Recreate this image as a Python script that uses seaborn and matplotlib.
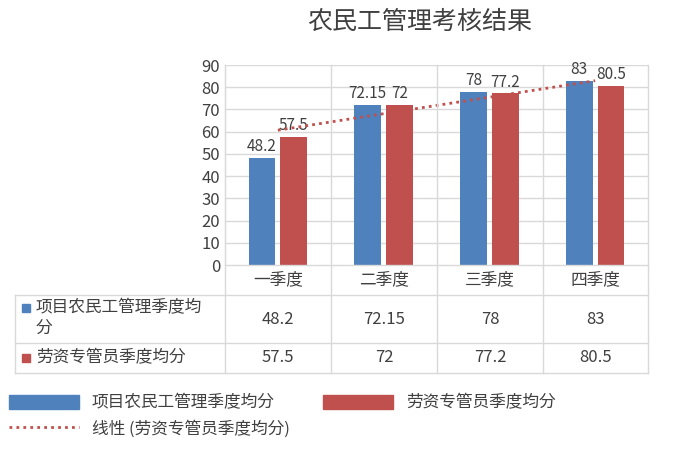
import numpy as np
import pandas as pd
import matplotlib
matplotlib.use("Agg")
import matplotlib.pyplot as plt
from matplotlib import font_manager
import seaborn as sns
from matplotlib.patches import Patch, Rectangle
from matplotlib.lines import Line2D

# pick whichever CJK family is actually registered
names = {f.name for f in font_manager.fontManager.ttflist}
cjk = [n for n in ["Noto Sans CJK SC", "Noto Sans CJK JP", "Noto Sans CJK TC",
                   "Noto Sans CJK KR", "Noto Sans SC"] if n in names]
if not cjk:
    cjk = sorted(n for n in names if "CJK" in n)
plt.rcParams["font.family"] = "sans-serif"
plt.rcParams["font.sans-serif"] = cjk + ["DejaVu Sans"]

quarters = ["一季度", "二季度", "三季度", "四季度"]
series_names = ["项目农民工管理季度均分", "劳资专管员季度均分"]
project_scores = [48.2, 72.15, 78, 83]
labor_scores = [57.5, 72, 77.2, 80.5]
colors = ["#4F81BD", "#C0504D"]

df = pd.DataFrame({
    "quarter": quarters * 2,
    "series": [series_names[0]] * 4 + [series_names[1]] * 4,
    "score": project_scores + labor_scores,
})

fig = plt.figure(figsize=(6.73, 4.68), dpi=100)
W, H = 673, 468
def fx(px): return px / W
def fy(py): return 1 - py / H

ax = fig.add_axes([fx(225), fy(265), fx(648) - fx(225), fy(65) - fy(265)])
sns.barplot(data=df, x="quarter", y="score", hue="series", palette=colors,
            saturation=1, width=0.6, gap=0.15, ax=ax, legend=False, zorder=3)

for cont in ax.containers:
    ax.bar_label(cont, fmt="%g", fontsize=11, color="#404040", padding=2)

# linear trendline of the second series
xs = np.arange(len(quarters))
slope, icpt = np.polyfit(xs, labor_scores, 1)
ax.plot(xs, slope * xs + icpt, linestyle=(0, (1, 1.5)), color="#C0504D", lw=2, zorder=4)

ax.set_ylim(0, 90)
ax.set_yticks(range(0, 91, 10))
ax.set_xlim(-0.5, 3.5)
ax.set_xlabel("")
ax.set_ylabel("")
ax.set_xticks([])
ax.tick_params(axis="y", length=0, labelsize=12, colors="#404040")
for y in range(10, 91, 10):
    ax.axhline(y, color="#D9D9D9", lw=1, zorder=0)
for s in ["top", "right", "bottom"]:
    ax.spines[s].set_visible(False)
ax.spines["left"].set_color("#D9D9D9")

fig.text(fx(420), fy(22), "农民工管理考核结果", ha="center", va="center",
         fontsize=18, color="#404040")

# data table
lc = "#D9D9D9"
col_edges = [225, 331, 437, 543, 648]
for yy in [295, 343, 373]:
    fig.add_artist(Line2D([fx(15), fx(648)], [fy(yy), fy(yy)], color=lc, lw=1))
fig.add_artist(Line2D([fx(225), fx(648)], [fy(265), fy(265)], color=lc, lw=1))
fig.add_artist(Line2D([fx(15), fx(15)], [fy(295), fy(373)], color=lc, lw=1))
for x in col_edges:
    fig.add_artist(Line2D([fx(x), fx(x)], [fy(65), fy(373)], color=lc, lw=1))

for i, q in enumerate(quarters):
    cx = (col_edges[i] + col_edges[i + 1]) / 2
    fig.text(fx(cx), fy(280), q, ha="center", va="center", fontsize=12, color="#404040")
    fig.text(fx(cx), fy(319), f"{project_scores[i]:g}", ha="center", va="center", fontsize=12, color="#404040")
    fig.text(fx(cx), fy(358), f"{labor_scores[i]:g}", ha="center", va="center", fontsize=12, color="#404040")

fig.add_artist(Rectangle((fx(22), fy(312)), fx(8), 8 / H, color=colors[0]))
fig.text(fx(36), fy(318), "项目农民工管理季度均\n分", ha="left", va="center",
         fontsize=12, color="#404040", linespacing=1.3)
fig.add_artist(Rectangle((fx(22), fy(362)), fx(8), 8 / H, color=colors[1]))
fig.text(fx(36), fy(358), series_names[1], ha="left", va="center", fontsize=12, color="#404040")

handles = [Patch(color=colors[0], label=series_names[0]),
           Line2D([], [], color="#C0504D", lw=2, linestyle=(0, (1, 1.5)),
                  label="线性 (" + series_names[1] + ")"),
           Patch(color=colors[1], label=series_names[1])]
fig.legend(handles=handles, ncol=2, loc="upper left", bbox_to_anchor=(fx(2), fy(388)),
           frameon=False, fontsize=12, handlelength=4.2, handleheight=0.9,
           columnspacing=2.0, labelcolor="#404040", borderaxespad=0)

fig.savefig("out.png", dpi=100)
